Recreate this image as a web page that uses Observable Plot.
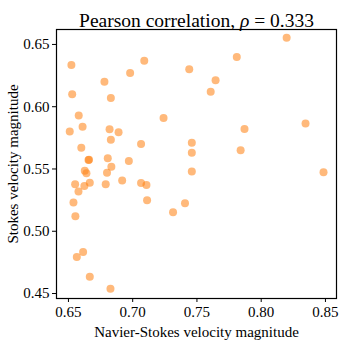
<!DOCTYPE html>
<html>
<head>
<meta charset="utf-8">
<script src="https://cdn.jsdelivr.net/npm/d3@7"></script>
<script src="https://cdn.jsdelivr.net/npm/@observablehq/plot@0.6"></script>
<style>
  html, body { margin: 0; padding: 0; background: white; }
</style>
</head>
<body>
<div id="chart"></div>
<script>
const nsVel = [0.6523,0.6529,0.678,0.683,0.698,0.709,0.744,0.658,0.661,0.651,0.682,0.689,0.724,0.683,0.7065,0.746,0.746,0.660,0.6656,0.6660,0.6806,0.697,0.6834,0.6627,0.664,0.680,0.746,0.8198,0.781,0.7645,0.7607,0.8345,0.787,0.784,0.8485,0.6552,0.6624,0.6666,0.679,0.6918,0.7065,0.7107,0.6578,0.7112,0.6539,0.7407,0.7314,0.6554,0.6614,0.6565,0.6666,0.6827];
const stVel = [0.6334,0.610,0.620,0.607,0.627,0.637,0.630,0.593,0.584,0.580,0.582,0.5795,0.591,0.5734,0.570,0.571,0.563,0.567,0.5573,0.5575,0.5586,0.5565,0.5517,0.5485,0.5466,0.547,0.548,0.6554,0.640,0.6213,0.612,0.5865,0.5822,0.565,0.5474,0.5377,0.5364,0.539,0.5377,0.5407,0.5388,0.5372,0.532,0.5248,0.523,0.5224,0.5152,0.512,0.4834,0.4793,0.4635,0.4539];
const xTicks = [0.65, 0.70, 0.75, 0.80, 0.85];
const yTicks = [0.45, 0.50, 0.55, 0.60, 0.65];
const titleText = "Pearson correlation, ρ = 0.333";
const xLabel = "Navier-Stokes velocity magnitude";
const yLabel = "Stokes velocity magnitude";

const data = nsVel.map((x, i) => ({x, y: stVel[i]}));
const font = "'Liberation Serif', 'DejaVu Serif', serif";

const chart = Plot.plot({
  width: 346,
  height: 346,
  marginLeft: 56,
  marginRight: 10,
  marginTop: 29,
  marginBottom: 48,
  style: {fontFamily: font, fontSize: "15px", background: "white", color: "black"},
  x: {domain: [0.6407, 0.8586]},
  y: {domain: [0.446, 0.662]},
  marks: [
    Plot.dot(data, {x: "x", y: "y", r: 4, fill: "#ff7f0e", fillOpacity: 0.55, stroke: "none"}),
    Plot.frame({stroke: "black", strokeWidth: 1.2}),
    Plot.axisX({ticks: xTicks, tickFormat: d3.format(".2f"), tickSize: 4, tickPadding: 4, fontSize: 15, stroke: "black",
                label: xLabel, labelAnchor: "center", labelArrow: "none", labelOffset: 38}),
    Plot.axisY({ticks: yTicks, tickFormat: d3.format(".2f"), tickSize: 4, tickPadding: 3, fontSize: 15, stroke: "black",
                label: yLabel, labelAnchor: "center", labelArrow: "none", labelOffset: 49}),
    Plot.text([titleText], {text: d => d, frameAnchor: "top", textAnchor: "middle", dy: -16, fontSize: 19.5, fill: "black"})
  ]
});

d3.select(chart).selectAll("text").each(function() {
  if (this.textContent === titleText) {
    const t = d3.select(this);
    t.text(null);
    t.append("tspan").text("Pearson correlation, ");
    t.append("tspan").attr("font-style", "italic").text("ρ");
    t.append("tspan").text(" = 0.333");
  }
});

document.getElementById("chart").appendChild(chart);
</script>
</body>
</html>
